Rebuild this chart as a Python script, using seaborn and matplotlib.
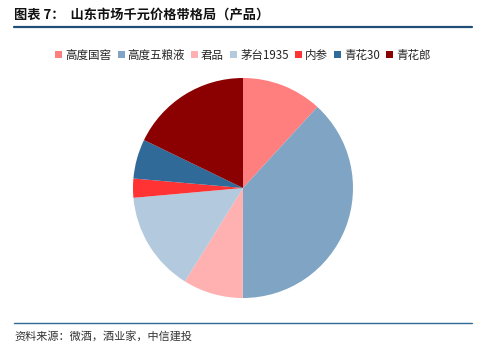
import matplotlib
matplotlib.use("Agg")
import matplotlib.pyplot as plt
from matplotlib.patches import Patch
from matplotlib.lines import Line2D
import seaborn as sns

categories = ["高度国窖", "高度五粮液", "君品", "茅台1935", "内参", "青花30", "青花郎"]
shares = [11.8, 38.2, 8.8, 14.7, 2.8, 5.8, 17.8]
colors = ["#FF7F7F", "#7FA4C4", "#FFB0B0", "#B2C9DE", "#FF3333", "#2F6A98", "#8B0000"]
title = "图表 7：  山东市场千元价格带格局（产品）"
source = "资料来源：微酒，酒业家，中信建投"

sns.set_theme(style="white")
plt.rcParams['font.family'] = ['Noto Sans CJK SC', 'DejaVu Sans']

W, H = 499, 356
fig = plt.figure(figsize=(W / 100, H / 100), dpi=100)
fig.patch.set_facecolor("white")

cx, cy, r = 243, 188, 110
ax = fig.add_axes([(cx - r) / W, (H - cy - r) / H, 2 * r / W, 2 * r / H])
ax.pie(shares, colors=colors, startangle=90, counterclock=False, radius=1,
       wedgeprops=dict(linewidth=0))
ax.set_xlim(-1, 1)
ax.set_ylim(-1, 1)
ax.set_aspect("equal")
ax.axis("off")

fig.text(14 / W, 1 - 15 / H, title, fontsize=9.5, fontweight="bold",
         color="#111111", va="center", ha="left")
fig.add_artist(Line2D([14 / W, 472 / W], [1 - 27 / H, 1 - 27 / H],
                      color="#1F4E79", linewidth=1.6, transform=fig.transFigure))

handles = [Patch(facecolor=c, edgecolor="none") for c in colors]
fig.legend(handles, categories, loc="center", bbox_to_anchor=(243 / W, 1 - 55 / H),
           ncol=7, frameon=False, fontsize=8.3, handlelength=0.6, handleheight=0.6,
           handletextpad=0.25, columnspacing=0.55, borderaxespad=0, borderpad=0)

fig.add_artist(Line2D([14 / W, 472 / W], [1 - 323 / H, 1 - 323 / H],
                      color="#2E6A98", linewidth=1.0, transform=fig.transFigure))
fig.text(14 / W, 1 - 336 / H, source, fontsize=8, style="italic",
         color="#333333", va="center", ha="left")

fig.savefig("out.png", dpi=100, facecolor="white")
